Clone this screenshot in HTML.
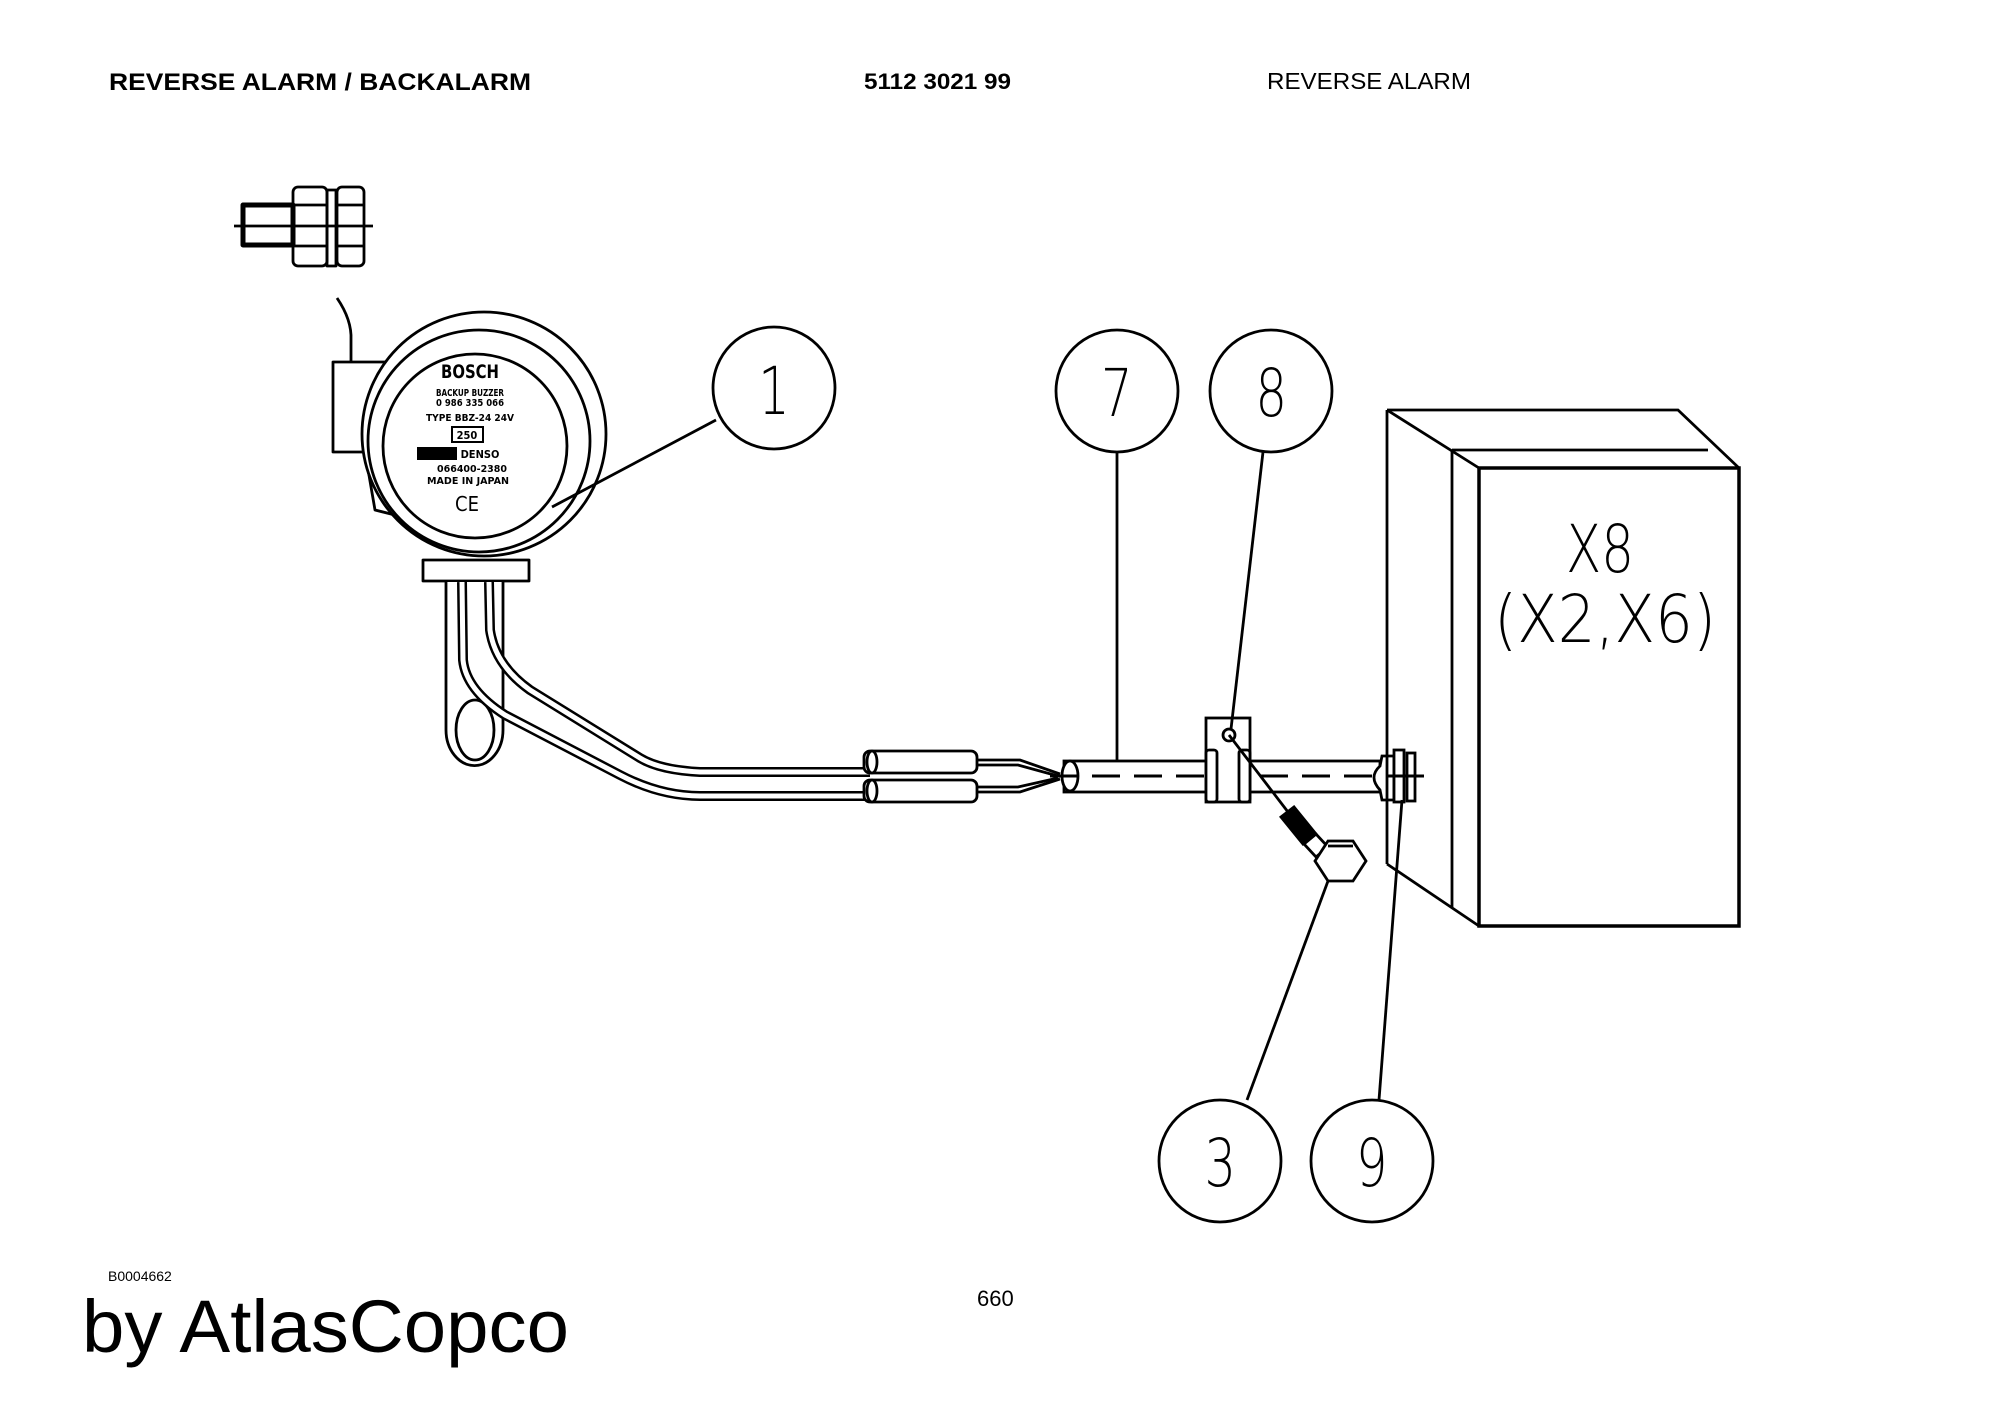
<!DOCTYPE html>
<html><head><meta charset="utf-8"><style>
html,body{margin:0;padding:0;background:#fff;}
svg{display:block}
</style></head><body>
<svg width="2000" height="1414" viewBox="0 0 2000 1414" xmlns="http://www.w3.org/2000/svg">
<rect width="2000" height="1414" fill="#fff"/>
<g font-family="Liberation Sans, Arial, sans-serif" fill="#000">
<text x="109" y="90" font-size="24" font-weight="bold" textLength="422" lengthAdjust="spacingAndGlyphs">REVERSE ALARM / BACKALARM</text>
<text x="864" y="89" font-size="22" font-weight="bold" textLength="147" lengthAdjust="spacingAndGlyphs">5112 3021 99</text>
<text x="1267" y="89" font-size="23" textLength="204" lengthAdjust="spacingAndGlyphs">REVERSE ALARM</text>
<text x="108" y="1281" font-size="14">B0004662</text>
<text x="977" y="1306" font-size="22">660</text>
<text x="82" y="1352" font-size="74" textLength="487" lengthAdjust="spacingAndGlyphs">by AtlasCopco</text>
</g>
<g fill="none" stroke="#000" stroke-width="2.8" stroke-linejoin="round">
<rect x="243" y="205" width="50" height="40" stroke-width="5"/>
<line x1="234" y1="226" x2="373" y2="226"/>
<rect x="293" y="187" width="34" height="79" rx="5"/>
<line x1="293" y1="205" x2="327" y2="205"/><line x1="293" y1="246" x2="327" y2="246"/>
<rect x="327" y="190" width="9" height="76"/>
<rect x="337" y="187" width="27" height="79" rx="5"/>
<line x1="337" y1="205" x2="364" y2="205"/><line x1="337" y1="246" x2="364" y2="246"/>
<path d="M337 298 Q352 320 351 340 L351 362"/>
<rect x="333" y="362" width="56" height="90" fill="#fff"/>
<path d="M365 452 L375 510 L395 515" />
<rect x="423" y="560" width="106" height="21" fill="#fff"/>
<circle cx="484" cy="434" r="122" fill="#fff"/>
<circle cx="479" cy="441" r="111"/>
<circle cx="475" cy="446" r="92"/>
<path d="M446 582 L446 730 A28 35 0 0 0 503 730 L503 582" fill="#fff"/>
<ellipse cx="475" cy="730" rx="19" ry="30"/>
</g>
<g fill="none" stroke-linejoin="round">
<path d="M489 582 L490 630 Q495 665 530 690 L640 758 Q660 770 700 772 L870 772" stroke="#000" stroke-width="10"/>
<path d="M489 582 L490 630 Q495 665 530 690 L640 758 Q660 770 700 772 L870 772" stroke="#fff" stroke-width="5"/>
<path d="M462 582 L463 660 Q466 690 505 715 L620 775 Q660 796 700 796 L870 796" stroke="#000" stroke-width="10"/>
<path d="M462 582 L463 660 Q466 690 505 715 L620 775 Q660 796 700 796 L870 796" stroke="#fff" stroke-width="5"/>
</g>
<g fill="none" stroke="#000" stroke-width="2.8">
<rect x="864" y="751" width="113" height="22" rx="6" fill="#fff"/>
<rect x="864" y="780" width="113" height="22" rx="6" fill="#fff"/>
<ellipse cx="872" cy="762" rx="5" ry="11"/><ellipse cx="872" cy="791" rx="5" ry="11"/>
<path d="M977 760 L1020 760 L1060 774"/><path d="M977 765 L1018 765 L1058 776"/>
<path d="M977 792 L1020 792 L1060 779"/><path d="M977 787 L1018 787 L1058 778"/>
<rect x="1064" y="761" width="316" height="31" fill="#fff"/>
<ellipse cx="1070" cy="776" rx="8" ry="15" fill="#fff"/>
<line x1="1050" y1="776" x2="1422" y2="776" stroke-width="3" stroke-dasharray="28,14"/>
<rect x="1206" y="718" width="44" height="84" fill="#fff"/>
<rect x="1206" y="750" width="11" height="52" rx="3" fill="#fff"/>
<rect x="1239" y="750" width="11" height="52" rx="3" fill="#fff"/>
<circle cx="1229" cy="735" r="6"/>
<line x1="1229" y1="735" x2="1288" y2="812"/>
<path d="M1281 817 L1294 807 L1316 834 L1303 844 Z" fill="#000"/>
<path d="M1304 844 L1316 834 L1328 847 L1316 857 Z"/>
<polygon points="1328,841 1353,841 1366,861 1353,881 1328,881 1315,861" fill="#fff"/>
<line x1="1328" y1="846" x2="1353" y2="846"/>
<path d="M1380 766 Q1368 777 1380 790 L1382 800 L1394 800 L1394 756 L1382 756 Z" fill="#fff"/>
<rect x="1394" y="750" width="10" height="52" fill="#fff"/>
<rect x="1407" y="753" width="8" height="48" fill="#fff"/>
<line x1="1386" y1="776" x2="1424" y2="776" stroke-width="3"/>
<path d="M1387 410 L1678 410 L1739 468" />
<line x1="1387" y1="410" x2="1387" y2="864"/>
<line x1="1387" y1="410" x2="1479" y2="468"/>
<line x1="1387" y1="864" x2="1479" y2="926"/>
<line x1="1452" y1="450" x2="1452" y2="908"/>
<line x1="1452" y1="450" x2="1708" y2="450"/>
<rect x="1479" y="468" width="260" height="458" stroke-width="3.5"/>
<line x1="716" y1="420" x2="552" y2="507"/>
<line x1="1117" y1="452" x2="1117" y2="761"/>
<line x1="1263" y1="452" x2="1231" y2="729"/>
<line x1="1328" y1="881" x2="1247" y2="1100"/>
<line x1="1402" y1="800" x2="1379" y2="1100"/>
<circle cx="774" cy="388" r="61" fill="#fff"/>
<circle cx="1117" cy="391" r="61" fill="#fff"/>
<circle cx="1271" cy="391" r="61" fill="#fff"/>
<circle cx="1220" cy="1161" r="61" fill="#fff"/>
<circle cx="1372" cy="1161" r="61" fill="#fff"/>
</g>
<g font-family="DejaVu Sans ExtraLight, DejaVu Sans Light, DejaVu Sans Condensed, sans-serif" font-weight="200" fill="#000" text-anchor="middle" font-size="66">
<text x="774" y="414" transform="scale(0.75,1) translate(258,0)">1</text>
<text x="1117" y="416" transform="scale(0.75,1) translate(372,0)">7</text>
<text x="1271" y="416" transform="scale(0.75,1) translate(424,0)">8</text>
<text x="1220" y="1186" transform="scale(0.75,1) translate(407,0)">3</text>
<text x="1372" y="1186" transform="scale(0.75,1) translate(457,0)">9</text>
<text x="1600" y="572" font-size="66" textLength="68" lengthAdjust="spacingAndGlyphs">X8</text>
<text x="1605" y="642" font-size="66" textLength="222" lengthAdjust="spacingAndGlyphs">(X2,X6)</text>
</g>
<g font-family="DejaVu Sans Condensed, DejaVu Sans, sans-serif" font-weight="bold" fill="#000" text-anchor="middle">
<text x="470" y="378" font-size="19" textLength="58" lengthAdjust="spacingAndGlyphs">BOSCH</text>
<text x="470" y="396" font-size="10" textLength="68" lengthAdjust="spacingAndGlyphs">BACKUP BUZZER</text>
<text x="470" y="406" font-size="10" textLength="68" lengthAdjust="spacingAndGlyphs">0 986 335 066</text>
<text x="470" y="421" font-size="10" textLength="88" lengthAdjust="spacingAndGlyphs">TYPE BBZ-24 24V</text>
<rect x="452" y="427" width="31" height="15" fill="none" stroke="#000" stroke-width="2"/>
<text x="467" y="439" font-size="11">250</text>
<rect x="417" y="447" width="40" height="13"/>
<text x="480" y="458" font-size="11">DENSO</text>
<text x="472" y="472" font-size="10" textLength="70" lengthAdjust="spacingAndGlyphs">066400-2380</text>
<text x="468" y="484" font-size="10" textLength="82" lengthAdjust="spacingAndGlyphs">MADE IN JAPAN</text>
<text x="467" y="511" font-size="20" font-weight="normal">CE</text>
</g>
</svg>
</body></html>
